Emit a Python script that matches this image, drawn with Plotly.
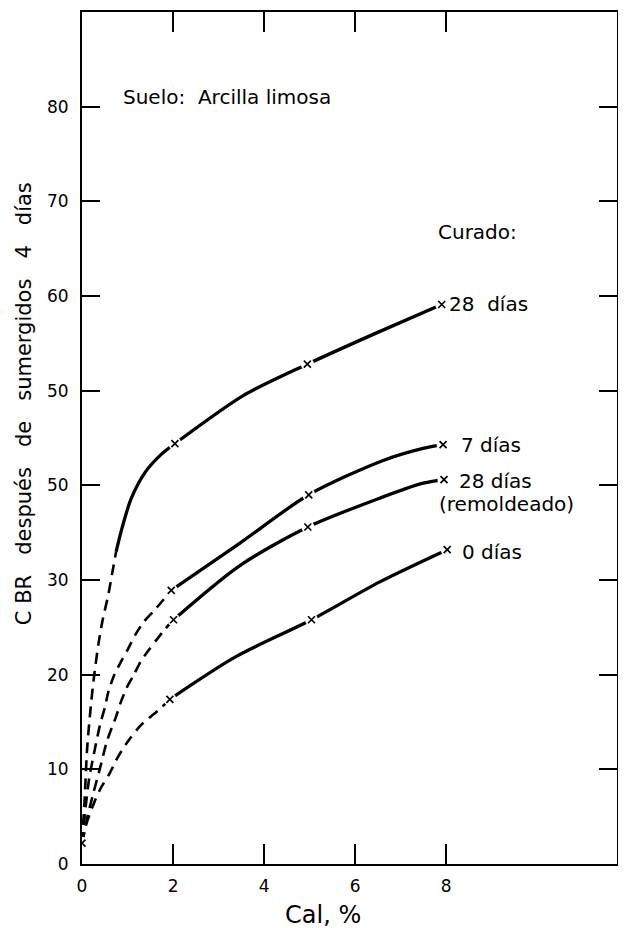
import plotly.graph_objects as go

# ---- data ----
x_ticks = [0, 2, 4, 6, 8]
x_ticktext = ["0", "2", "4", "6", "8"]
y_ticks = [0, 10, 20, 30, 40, 50, 60, 70, 80]
y_ticktext = ["0", "10", "20", "30", "50", "50", "60", "70", "80"]

# 28 días
x28_dash = [0, 0.06, 0.11, 0.20, 0.27, 0.36, 0.45, 0.58, 0.67, 0.75]
y28_dash = [2.2, 7.0, 12.0, 17.0, 20.0, 23.2, 25.7, 28.5, 30.9, 33.0]
x28_solid = [0.75, 0.88, 1.08, 1.39, 1.77, 2.04, 3.55, 4.95, 6.42, 7.90]
y28_solid = [33.0, 35.5, 38.6, 41.4, 43.4, 44.4, 49.5, 52.8, 56.0, 59.1]
x28_pts = [2.04, 4.95, 7.90]
y28_pts = [44.4, 52.8, 59.1]

# 7 días
x7_dash = [0, 0.08, 0.16, 0.29, 0.40, 0.50, 0.58, 0.71, 0.86, 1.02, 1.17, 1.36, 1.59, 1.96]
y7_dash = [2.2, 6.0, 9.1, 12.3, 14.8, 16.5, 18.2, 20.0, 21.4, 22.8, 24.2, 25.6, 26.8, 28.9]
x7_solid = [1.96, 3.47, 4.98, 6.60, 7.49, 7.93]
y7_solid = [28.9, 33.9, 39.0, 42.6, 43.9, 44.3]
x7_pts = [1.96, 4.98, 7.93]
y7_pts = [28.9, 39.0, 44.3]

# 28 días (remoldeado)
xr_dash = [0, 0.12, 0.25, 0.40, 0.55, 0.75, 0.86, 0.98, 1.14, 1.29, 1.45, 1.64, 1.82, 2.01]
yr_dash = [2.2, 5.0, 7.5, 10.2, 13.0, 15.6, 17.2, 18.6, 20.0, 21.4, 22.5, 23.7, 24.8, 25.8]
xr_solid = [2.01, 3.46, 4.96, 6.57, 7.47, 7.95]
yr_solid = [25.8, 31.5, 35.6, 38.7, 40.2, 40.6]
xr_pts = [2.01, 4.96, 7.95]
yr_pts = [25.8, 35.6, 40.6]

# 0 días
x0_dash = [0, 0.10, 0.26, 0.41, 0.61, 0.80, 1.03, 1.30, 1.67, 1.93]
y0_dash = [2.2, 4.3, 6.4, 8.0, 9.6, 11.4, 13.1, 14.7, 16.2, 17.4]
x0_solid = [1.93, 3.38, 5.04, 6.54, 8.02]
y0_solid = [17.4, 21.9, 25.8, 29.8, 33.2]
x0_pts = [1.93, 5.04, 8.02]
y0_pts = [17.4, 25.8, 33.2]

x_origin = [0]
y_origin = [2.2]

FONT = "DejaVu Sans"
fig = go.Figure()

dash_sets = [(x28_dash, y28_dash), (x7_dash, y7_dash), (xr_dash, yr_dash), (x0_dash, y0_dash)]
solid_sets = [(x28_solid, y28_solid), (x7_solid, y7_solid), (xr_solid, yr_solid), (x0_solid, y0_solid)]
pt_sets = [(x28_pts, y28_pts), (x7_pts, y7_pts), (xr_pts, yr_pts), (x0_pts, y0_pts), (x_origin, y_origin)]

for xs, ys in dash_sets:
    fig.add_trace(go.Scatter(x=xs, y=ys, mode="lines",
                             line=dict(color="black", width=2.6, dash="11px,7px",
                                       shape="spline", smoothing=0.8),
                             hoverinfo="skip", showlegend=False))
for xs, ys in solid_sets:
    fig.add_trace(go.Scatter(x=xs, y=ys, mode="lines",
                             line=dict(color="black", width=3.3, shape="spline", smoothing=0.8),
                             hoverinfo="skip", showlegend=False))
# white gaps around the points
for xs, ys in pt_sets:
    fig.add_trace(go.Scatter(x=xs, y=ys, mode="markers",
                             marker=dict(symbol="circle", size=13, color="white",
                                         line=dict(width=0)),
                             hoverinfo="skip", showlegend=False))
for xs, ys in pt_sets:
    fig.add_trace(go.Scatter(x=xs, y=ys, mode="markers",
                             marker=dict(symbol="x-thin", size=7, color="black",
                                         line=dict(width=1.7, color="black")),
                             showlegend=False))

ann_font = dict(family=FONT, size=20, color="black")
annotations = [
    dict(x=0.85, y=81.0, text="Suelo:\u00a0 Arcilla limosa", xanchor="left"),
    dict(x=7.78, y=66.8, text="Curado:", xanchor="left"),
    dict(x=8.02, y=59.2, text="28\u00a0 días", xanchor="left"),
    dict(x=8.28, y=44.3, text="7 días", xanchor="left"),
    dict(x=8.24, y=40.5, text="28 días", xanchor="left"),
    dict(x=7.80, y=38.0, text="(remoldeado)", xanchor="left"),
    dict(x=8.30, y=33.0, text="0 días", xanchor="left"),
]
for a in annotations:
    fig.add_annotation(xref="x", yref="y", showarrow=False, font=ann_font,
                       yanchor="middle", **a)

fig.add_annotation(xref="x", yref="paper", x=5.3, y=-0.06, text="Cal, %",
                   showarrow=False, font=dict(family=FONT, size=24, color="black"),
                   xanchor="center", yanchor="middle")
gap = "\u00a0" * 3
fig.add_annotation(xref="paper", yref="paper", x=-0.108, y=0.54,
                   text="C BR" + gap + "después" + gap + "de" + gap + "sumergidos" + gap + "4" + gap + "días",
                   textangle=-90, showarrow=False,
                   font=dict(family=FONT, size=21, color="black"),
                   xanchor="center", yanchor="middle")

# page body has an 8px default margin: figure is sized so the plot lands where the reference has it
fig.update_layout(
    width=618, height=920,
    margin=dict(l=74, r=9, t=4, b=64),
    paper_bgcolor="white", plot_bgcolor="white",
    font=dict(family=FONT, color="black"),
    xaxis=dict(range=[0, 11.75], autorange=False, tickmode="array",
               tickvals=x_ticks, ticktext=x_ticktext,
               ticks="inside", ticklen=20, tickwidth=1.5, tickcolor="black",
               showline=True, linewidth=2, linecolor="black", mirror="ticks",
               showgrid=False, zeroline=False, automargin=False,
               tickfont=dict(family=FONT, size=17, color="black"),
               ticklabelstandoff=6),
    yaxis=dict(range=[0, 90], autorange=False, tickmode="array",
               tickvals=y_ticks, ticktext=y_ticktext,
               ticks="inside", ticklen=18, tickwidth=1.5, tickcolor="black",
               showline=True, linewidth=2, linecolor="black", mirror="ticks",
               showgrid=False, zeroline=False, automargin=False,
               tickfont=dict(family=FONT, size=17, color="black"),
               ticklabelstandoff=8),
)

fig.write_html("out.html")
